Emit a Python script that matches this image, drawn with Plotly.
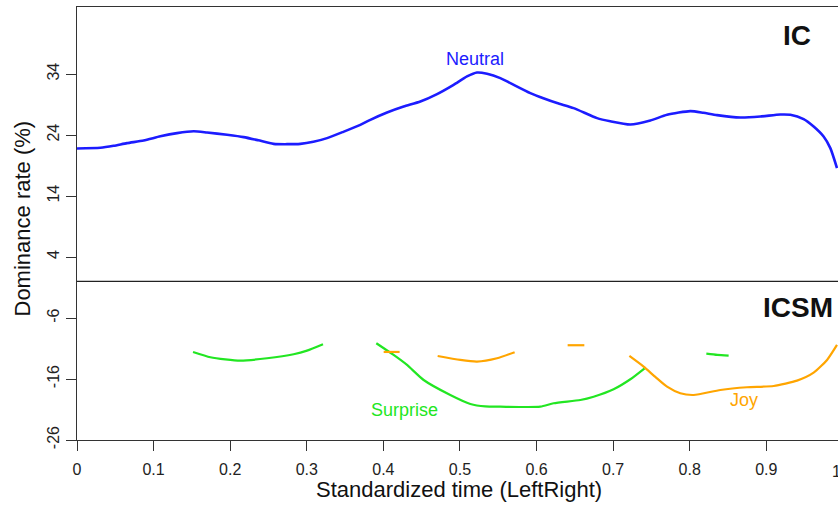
import plotly.graph_objects as go

# Neutral dominance rate (%) over standardized time, IC condition
neutral_t = [0.000, 0.0305, 0.0478, 0.0653, 0.0870, 0.1088, 0.1306, 0.1523, 0.1698, 0.1959,
             0.2176, 0.2368, 0.2567, 0.2916, 0.3086, 0.3265, 0.3477, 0.3699, 0.3830, 0.4048,
             0.4265, 0.4483, 0.4701, 0.4917, 0.5092, 0.5223, 0.5354, 0.5527, 0.5658, 0.5919,
             0.6089, 0.6268, 0.6484, 0.6790, 0.6963, 0.7225, 0.7486, 0.7704, 0.8008, 0.8178,
             0.8357, 0.8661, 0.8922, 0.9183, 0.9314, 0.9487, 0.9618, 0.9748, 0.9836, 0.9923]
neutral_v = [21.79, 21.91, 22.24, 22.68, 23.11, 23.79, 24.32, 24.62, 24.42, 24.04,
             23.66, 23.14, 22.56, 22.56, 22.89, 23.50, 24.53, 25.68, 26.50, 27.70,
             28.68, 29.50, 30.72, 32.24, 33.61, 34.26, 34.05, 33.34, 32.52, 30.88,
             30.03, 29.24, 28.42, 26.78, 26.26, 25.73, 26.39, 27.32, 27.93, 27.65,
             27.27, 26.88, 27.04, 27.37, 27.32, 26.62, 25.40, 23.76, 21.86, 18.58]

# Surprise, ICSM condition (shifted panel, drawn in separate segments)
surprise_t1 = [0.1515, 0.1741, 0.1937, 0.2133, 0.2481, 0.2828, 0.3003, 0.3212]
surprise_v1 = [-11.56, -12.43, -12.79, -12.99, -12.60, -11.94, -11.35, -10.30]
surprise_t2 = [0.3908, 0.4134, 0.4309, 0.4526, 0.4874, 0.5136, 0.5331, 0.5527, 0.6049,
               0.6223, 0.6572, 0.6745, 0.7006, 0.7225, 0.7411]
surprise_v2 = [-10.13, -12.05, -13.69, -16.16, -18.62, -20.09, -20.50, -20.54, -20.54,
               -19.98, -19.44, -18.90, -17.68, -16.04, -14.24]
surprise_t3 = [0.8217, 0.8361, 0.8508]
surprise_v3 = [-11.84, -12.05, -12.17]

# Joy, ICSM condition
joy_t1 = [0.4004, 0.4212]
joy_v1 = [-11.56, -11.56]
joy_t2 = [0.4709, 0.5005, 0.5223, 0.5484, 0.5714]
joy_v2 = [-12.22, -12.87, -13.15, -12.60, -11.61]
joy_t3 = [0.6406, 0.6624]
joy_v3 = [-10.46, -10.46]
joy_t4 = [0.7212, 0.7398, 0.7551, 0.7704, 0.7877, 0.8051, 0.8400, 0.8748, 0.9096,
          0.9401, 0.9618, 0.9793, 0.9923]
joy_v4 = [-12.22, -13.97, -15.66, -17.26, -18.34, -18.62, -17.80, -17.35, -17.14,
          -16.27, -14.96, -12.87, -10.41]

x_ticks = [0, 0.1, 0.2, 0.3, 0.4, 0.5, 0.6, 0.7, 0.8, 0.9]
x_tick_text = ["0", "0.1", "0.2", "0.3", "0.4", "0.5", "0.6", "0.7", "0.8", "0.9"]
y_ticks = [-26, -16, -6, 4, 14, 24, 34]
y_tick_text = ["-26", "-16", "-6", "4", "14", "24", "34"]

BLUE = "#1c1cff"
GREEN = "#22e622"
ORANGE = "#ffa500"
FONT = "Liberation Sans, Arial, Helvetica, sans-serif"

fig = go.Figure()

fig.add_trace(go.Scatter(x=neutral_t, y=neutral_v, mode="lines",
                         line=dict(color=BLUE, width=2.6, shape="spline", smoothing=0.6),
                         hoverinfo="skip"))

for tx, vy in [(surprise_t1, surprise_v1), (surprise_t2, surprise_v2), (surprise_t3, surprise_v3)]:
    fig.add_trace(go.Scatter(x=tx, y=vy, mode="lines",
                             line=dict(color=GREEN, width=2.2, shape="spline", smoothing=0.6),
                             hoverinfo="skip"))

for tx, vy in [(joy_t1, joy_v1), (joy_t2, joy_v2), (joy_t3, joy_v3), (joy_t4, joy_v4)]:
    fig.add_trace(go.Scatter(x=tx, y=vy, mode="lines",
                             line=dict(color=ORANGE, width=2.2, shape="spline", smoothing=0.6),
                             hoverinfo="skip"))

# panel divider between IC (top) and ICSM (bottom)
fig.add_shape(type="line", xref="paper", yref="y", x0=0, x1=1, y0=0, y1=0,
              line=dict(color="#222222", width=1.3))

annotations = [
    dict(x=0.520, y=36.5, xref="x", yref="y", text="Neutral", showarrow=False,
         font=dict(color=BLUE, size=18, family=FONT)),
    dict(x=0.4274, y=-21.1, xref="x", yref="y", text="Surprise", showarrow=False,
         font=dict(color=GREEN, size=18, family=FONT)),
    dict(x=0.8706, y=-19.5, xref="x", yref="y", text="Joy", showarrow=False,
         font=dict(color=ORANGE, size=18, family=FONT)),
    dict(x=0.9399, y=40.4, xref="x", yref="y", text="<b>IC</b>", showarrow=False,
         font=dict(color="#111111", size=28, family=FONT)),
    dict(x=0.9418, y=-4.2, xref="x", yref="y", text="<b>ICSM</b>", showarrow=False,
         font=dict(color="#111111", size=28, family=FONT)),
    # x-axis tick label at 1, sitting at the right edge of the page
    dict(x=(842.6 - 77) / 761, y=0, xref="paper", yref="paper", yanchor="middle",
         yshift=-31, text="1", showarrow=False,
         font=dict(color="#222222", size=16, family=FONT)),
    dict(x=(459 - 77) / 761, y=0, xref="paper", yref="paper", yanchor="middle",
         yshift=-49, text="Standardized time (LeftRight)", showarrow=False,
         font=dict(color="#111111", size=22, family=FONT)),
    dict(x=(22 - 77) / 761, y=(440 - 218.5) / 433, xref="paper", yref="paper",
         xanchor="center", yanchor="middle", textangle=-90,
         text="Dominance rate (%)", showarrow=False,
         font=dict(color="#111111", size=22, family=FONT)),
]

fig.update_layout(
    width=838, height=510,
    margin=dict(l=77, r=0, t=7, b=70),
    paper_bgcolor="white", plot_bgcolor="white",
    showlegend=False,
    annotations=annotations,
    font=dict(family=FONT, color="#222222", size=16),
    xaxis=dict(range=[0, 761 / 765.9], tickmode="array", tickvals=x_ticks, ticktext=x_tick_text,
               showgrid=False, zeroline=False, showline=True, linecolor="#333333", linewidth=1.3,
               mirror=True, ticks="outside", ticklen=10, tickcolor="#333333", tickwidth=1.3,
               ticklabelstandoff=5,
               tickfont=dict(size=16, family=FONT, color="#222222")),
    yaxis=dict(range=[-26, 45], tickmode="array", tickvals=y_ticks, ticktext=y_tick_text,
               tickangle=-90, showgrid=False, zeroline=False, showline=True,
               linecolor="#333333", linewidth=1.3, ticks="outside", ticklen=10,
               tickcolor="#333333", tickwidth=1.3,
               tickfont=dict(size=16, family=FONT, color="#222222")),
)

fig.write_html("out.html")
